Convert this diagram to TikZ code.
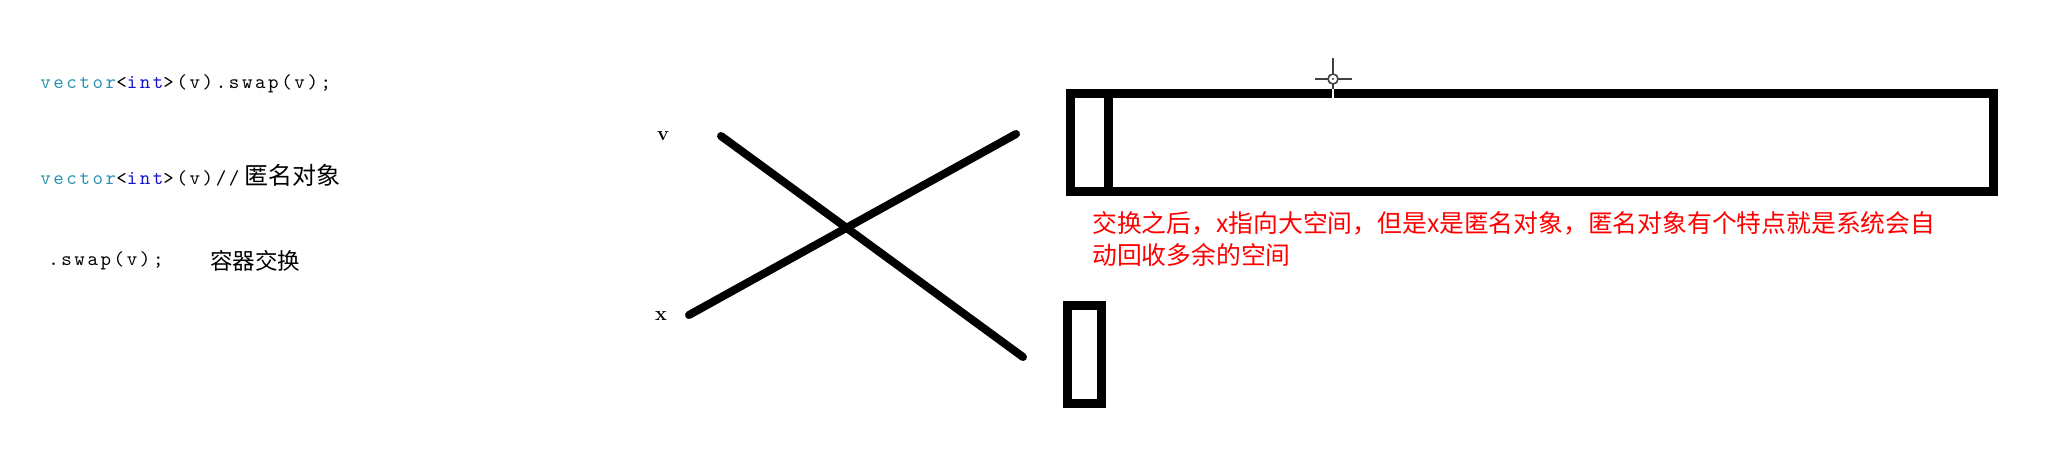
\documentclass[tikz,border=0pt]{standalone}
\usepackage{fontspec}
\newfontfamily\cjk{Noto Sans CJK SC}
\newfontfamily\codefont{lmmono10-regular.otf}[LetterSpace=13]

\definecolor{typeteal}{RGB}{43,145,175}
\definecolor{kwblue}{RGB}{20,20,200}
\definecolor{notered}{RGB}{255,0,0}

\newlength\unitL
\setlength\unitL{0.75pt}

\begin{document}
\begin{tikzpicture}[x=\unitL, y=-\unitL,
	code/.style={anchor=base west, inner sep=0pt, font=\codefont\fontsize{15}{18}\selectfont},
	wall/.style={line width=6.75pt},
	stroke/.style={line width=6pt, line cap=round},
	note/.style={anchor=base west, inner sep=0pt, text=notered, font=\cjk\fontsize{18.6}{24}\selectfont},
	tag/.style={inner sep=0pt, font=\bfseries\fontsize{15}{18}\selectfont}]
	
	% === Page size ===
	\useasboundingbox (0,0) rectangle (2046,469);
	
	% === Code lines ===
	\node[code] (swapline) at (40,88) {\textcolor{typeteal}{vector}<\textcolor{kwblue}{int}>(v).swap(v);};
	\node[code] (anonline) at (40,184) {\textcolor{typeteal}{vector}<\textcolor{kwblue}{int}>(v)//\kern4pt{\cjk\fontsize{18}{20}\selectfont 匿名对象}};
	\node[code] (swapcall) at (48,265) {.swap(v);};
	\node[anchor=base west, inner sep=0pt, font=\cjk\fontsize{16.9}{20}\selectfont] (swaptext) at (210,269) {容器交换};
	
	% === Crossed pointers ===
	\coordinate (vstart) at (721,136);
	\coordinate (vend) at (1023,357);
	\coordinate (xstart) at (689,315);
	\coordinate (xend) at (1016,134);
	\draw[stroke] (vstart) -- (vend);
	\draw[stroke] (xstart) -- (xend);
	\node[tag] (vtag) at (663,136) {v};
	\node[tag] (xtag) at (661,316) {x};
	
	% === Large buffer (with small cell) ===
	\draw[wall] (1070.5,93.5) rectangle (1993.8,191.5);
	\draw[wall] (1108.5,93.5) -- (1108.5,191.5);
	
	% === Small buffer ===
	\draw[wall] (1067,305.3) rectangle (1101.2,403.7);
	
	% === Mouse cursor ===
	\draw[white, line width=2pt] (1333,89) -- (1333,100);
	\draw[line width=1.5pt, black!75] (1333,58) -- (1333,74) (1333,84) -- (1333,89)
		(1315,79) -- (1328,79) (1338,79) -- (1352,79);
	\draw[line width=1.2pt, black!75] (1333,79) circle (5);
	\fill[black!75] (1333,79) circle (1.2);
	
	% === Red note ===
	\node[note] (noteone) at (1092,232) {交换之后，x指向大空间，但是x是匿名对象，匿名对象有个特点就是系统会自};
	\node[note] (notetwo) at (1092,264) {动回收多余的空间};
	
\end{tikzpicture}
\end{document}
